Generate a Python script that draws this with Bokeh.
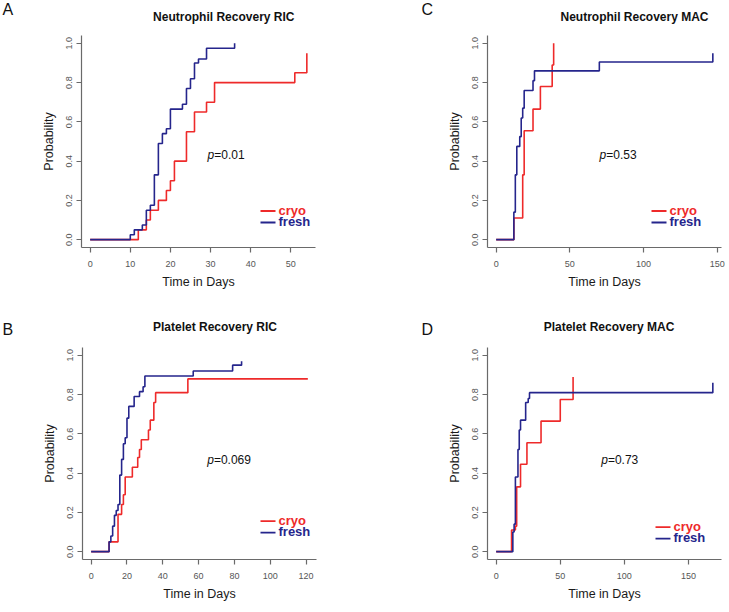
from bokeh.plotting import figure
from bokeh.models import Range1d, FixedTicker, Label
from bokeh.layouts import row, column
from bokeh.embed import file_html
from bokeh.resources import INLINE

# ---------------- data ----------------
# Panel A: Neutrophil Recovery RIC
a_fresh_t = [0, 10, 11, 13, 14, 15, 16, 17, 18, 19, 20, 23, 24, 25, 26, 27, 29, 36]
a_fresh_p = [0, 0.025, 0.05, 0.075, 0.15, 0.175, 0.33, 0.49, 0.54, 0.565, 0.665, 0.69, 0.77, 0.82, 0.90, 0.92, 0.975, 1.0]
a_cryo_t = [0, 12, 14, 15, 17, 19, 20, 21, 24, 26, 29, 31, 51, 54]
a_cryo_p = [0, 0.05, 0.10, 0.15, 0.20, 0.25, 0.30, 0.40, 0.55, 0.65, 0.70, 0.80, 0.85, 0.95]
a_pval = "=0.01"

# Panel B: Platelet Recovery RIC
b_fresh_t = [0, 10, 11, 12, 13, 14, 15, 16, 17, 18, 19, 20, 21, 24, 27, 29, 30, 57, 79, 84]
b_fresh_p = [0, 0.05, 0.08, 0.13, 0.185, 0.21, 0.24, 0.39, 0.47, 0.55, 0.58, 0.68, 0.74, 0.79, 0.815, 0.84, 0.895, 0.92, 0.95, 0.97]
b_cryo_t = [0, 10, 15, 17, 18, 19, 23, 26, 27, 28, 32, 33, 35, 36, 54, 121]
b_cryo_p = [0, 0.05, 0.19, 0.24, 0.29, 0.38, 0.43, 0.48, 0.52, 0.57, 0.62, 0.67, 0.76, 0.81, 0.88, 0.88]
b_pval = "=0.069"

# Panel C: Neutrophil Recovery MAC
c_fresh_t = [0, 12, 13, 14, 16, 17, 18, 19, 25, 26, 70, 147]
c_fresh_p = [0, 0.14, 0.33, 0.475, 0.525, 0.62, 0.67, 0.76, 0.81, 0.86, 0.905, 0.95]
c_cryo_t = [0, 12, 18, 19, 25, 30, 38, 39]
c_cryo_p = [0, 0.11, 0.33, 0.555, 0.665, 0.78, 0.89, 1.0]
c_pval = "=0.53"

# Panel D: Platelet Recovery MAC
d_fresh_t = [0, 13, 14, 15, 17, 18, 19, 23, 25, 26, 169]
d_fresh_p = [0, 0.10, 0.14, 0.38, 0.52, 0.62, 0.67, 0.76, 0.78, 0.81, 0.86]
d_cryo_t = [0, 12, 15, 16, 19, 24, 35, 50, 60]
d_cryo_p = [0, 0.11, 0.13, 0.33, 0.445, 0.555, 0.665, 0.775, 0.89]
d_pval = "=0.73"

y_ticks = [0, 0.2, 0.4, 0.6, 0.8, 1.0]
y_tick_labels = ["0.0", "0.2", "0.4", "0.6", "0.8", "1.0"]
a_x_ticks = [0, 10, 20, 30, 40, 50]
b_x_ticks = [0, 20, 40, 60, 80, 100, 120]
c_x_ticks = [0, 50, 100, 150]
d_x_ticks = [0, 50, 100, 150]
series_names = ["cryo", "fresh"]
titles = ["Neutrophil Recovery RIC", "Neutrophil Recovery MAC",
          "Platelet Recovery RIC", "Platelet Recovery MAC"]
letters = ["A", "C", "B", "D"]

# ---------------- styling ----------------
FONT = "Liberation Sans"
RED = "#EE2A2A"
NAVY = "#25258C"
AXIS = "#6a6a6a"
TICKTXT = "#555555"
FW, FH = 234, 212  # plot frame size in px
W = 729
LIFT = 0.3  # baseline correction (fraction of font size) for Label placement


def strip(y_top, height, items):
    """A figure without axes used only to hold the panel letters and titles."""
    s = figure(width=W, height=height, output_backend="svg", toolbar_location=None,
               title=None,
               x_range=Range1d(0, W), y_range=Range1d(height, 0),
               x_axis_type=None, y_axis_type=None,
               min_border=0, min_border_left=0, min_border_right=0,
               min_border_top=0, min_border_bottom=0)
    s.outline_line_color = None
    s.background_fill_color = "white"
    s.border_fill_color = "white"
    s.grid.visible = False
    for text, x, base, size, style, align in items:
        s.add_layout(Label(x=x, y=base - y_top - LIFT * size, text=text, text_font=FONT,
                           text_font_size=f"{size}px", text_font_style=style,
                           text_color="#111111", text_align=align,
                           text_baseline="alphabetic"))
    return s


def make_panel(fig_box, frame_xy, fresh_t, fresh_p, cryo_t, cryo_p,
               x_ticks, pval, p_pos, leg_pos):
    fx, fy, fw, fh = fig_box
    frl, frt = frame_xy
    xmax = max(max(fresh_t), max(cryo_t))
    pad = 0.04 * xmax
    x0, x1 = -pad, xmax + pad
    y0, y1 = -0.04, 1.04
    p = figure(width=fw, height=fh, output_backend="svg", toolbar_location=None,
               title=None,
               x_range=Range1d(x0, x1), y_range=Range1d(y0, y1),
               min_border_left=frl - fx, min_border_right=fx + fw - (frl + FW),
               min_border_top=frt - fy, min_border_bottom=fy + fh - (frt + FH))
    p.outline_line_color = None
    p.xgrid.grid_line_color = None
    p.ygrid.grid_line_color = None
    p.background_fill_color = "white"
    p.border_fill_color = "white"

    def to_data(px, py):
        return (x0 + (px - frl) / FW * (x1 - x0), y1 - (py - frt) / FH * (y1 - y0))

    # curves
    p.step(cryo_t, cryo_p, mode="after", line_color=RED, line_width=1.6)
    p.step(fresh_t, fresh_p, mode="after", line_color=NAVY, line_width=1.6)

    # axes
    for ax in (p.xaxis[0], p.yaxis[0]):
        ax.axis_line_color = AXIS
        ax.axis_line_width = 1.2
        ax.major_tick_line_color = AXIS
        ax.major_tick_line_width = 1.2
        ax.major_tick_out = 5
        ax.major_tick_in = 0
        ax.minor_tick_out = 0
        ax.minor_tick_in = 0
        ax.major_label_text_font = FONT
        ax.major_label_text_font_size = "9px"
        ax.major_label_text_color = TICKTXT
        ax.axis_label_text_font = FONT
        ax.axis_label_text_font_size = "12.5px"
        ax.axis_label_text_font_style = "normal"
        ax.axis_label_text_color = "#1a1a1a"
    p.xaxis.ticker = FixedTicker(ticks=x_ticks)
    p.yaxis.ticker = FixedTicker(ticks=y_ticks)
    p.yaxis.major_label_overrides = {t: s for t, s in zip(y_ticks, y_tick_labels)}
    p.yaxis.major_label_orientation = "vertical"
    p.xaxis.axis_label = "Time in Days"
    p.yaxis.axis_label = "Probability"
    p.xaxis.major_label_standoff = 8
    p.xaxis.axis_label_standoff = 5
    p.yaxis.major_label_standoff = 4
    p.yaxis.axis_label_standoff = 8

    # p value
    px_, py_ = to_data(p_pos[0], p_pos[1] - LIFT * 12)
    p.add_layout(Label(x=px_, y=py_, text="p", text_font=FONT, text_font_size="12px",
                       text_font_style="italic", text_color="#111111",
                       text_align="left", text_baseline="alphabetic"))
    qx, qy = to_data(p_pos[0] + 6.7, p_pos[1] - LIFT * 12)
    p.add_layout(Label(x=qx, y=qy, text=pval, text_font=FONT, text_font_size="12px",
                       text_color="#111111", text_align="left", text_baseline="alphabetic"))

    # legend (manual, coloured text)
    lgx, lgy = leg_pos
    for i, (name, col) in enumerate(zip(series_names, [RED, NAVY])):
        yy = lgy + i * 11.5
        ax0, ay0 = to_data(lgx, yy)
        ax1, _ = to_data(lgx + 15, yy)
        p.segment(x0=[ax0], y0=[ay0], x1=[ax1], y1=[ay0], line_color=col, line_width=1.8)
        tx2, ty2 = to_data(lgx + 18, yy + 3 - LIFT * 13)
        p.add_layout(Label(x=tx2, y=ty2, text=name, text_font=FONT, text_font_size="13px",
                           text_font_style="bold", text_color=col,
                           text_align="left", text_baseline="alphabetic"))
    return p


# top strip (letters A, C and titles), y 0..30
s1 = strip(0, 30, [
    (letters[0], 2, 13.5, 16, "normal", "left"),
    (titles[0], 223.3, 20, 12, "bold", "center"),
    (letters[1], 421, 13.5, 16, "normal", "left"),
    (titles[1], 634, 20, 12, "bold", "center"),
])
pA = make_panel((0, 30, 364, 270), (81, 35), a_fresh_t, a_fresh_p, a_cryo_t, a_cryo_p,
                a_x_ticks, a_pval, (207, 158.3), (260, 210.5))
pC = make_panel((364, 30, 365, 270), (487, 35), c_fresh_t, c_fresh_p, c_cryo_t, c_cryo_p,
                c_x_ticks, c_pval, (599, 158.3), (651, 210.5))

# middle strip (letters B, D and titles), y 300..338
s2 = strip(300, 38, [
    (letters[2], 2, 333.3, 16, "normal", "left"),
    (titles[2], 214.5, 330, 12, "bold", "center"),
    (letters[3], 421, 333.3, 16, "normal", "left"),
    (titles[3], 608.5, 330, 12, "bold", "center"),
])
pB = make_panel((0, 338, 364, 274), (82, 347), b_fresh_t, b_fresh_p, b_cryo_t, b_cryo_p,
                b_x_ticks, b_pval, (206.7, 463.3), (260, 520.7))
pD = make_panel((364, 338, 365, 274), (487, 347), d_fresh_t, d_fresh_p, d_cryo_t, d_cryo_p,
                d_x_ticks, d_pval, (600.7, 462.7), (655, 526.7))

layout = column(s1, row(pA, pC), s2, row(pB, pD))
open("out.html", "w").write(file_html(layout, INLINE))
